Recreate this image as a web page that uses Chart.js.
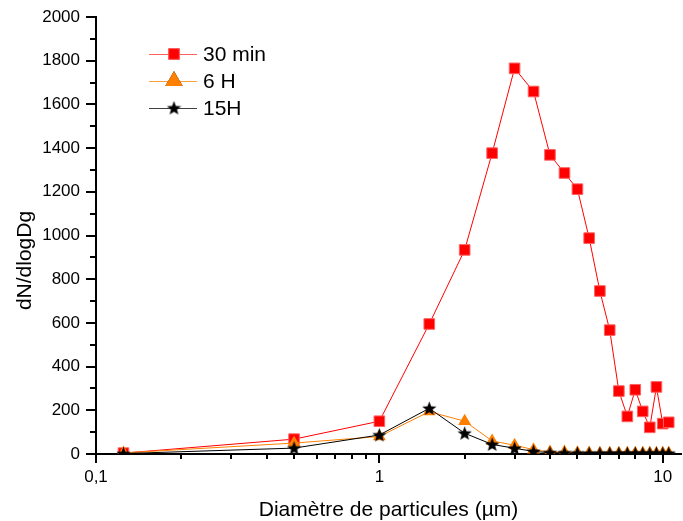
<!DOCTYPE html>
<html>
<head>
<meta charset="utf-8">
<script src="https://cdn.jsdelivr.net/npm/chart.js@4/dist/chart.umd.min.js"></script>
<style>
  html, body { margin: 0; padding: 0; background: #fff; }
  #wrap { width: 683px; height: 521px; }
</style>
</head>
<body>
<div id="wrap"><canvas id="psd" width="683" height="521"></canvas></div>
<script>
// particle diameters (µm)
const diam = [0.125, 0.5, 1, 1.5, 2, 2.5, 3, 3.5, 4, 4.5, 5, 5.5, 6, 6.5, 7, 7.5, 8, 8.5, 9, 9.5, 10, 10.5];
const min30 = [4, 68, 150, 595, 934, 1377, 1765, 1659, 1369, 1286, 1212, 988, 746, 567, 288, 172, 294, 195, 122, 307, 139, 145];
const h6 = [5, 50, 80, 194, 150, 60, 40, 20, 9, 9, 6, 5, 4, 4, 4, 4, 4, 4, 4, 4, 4, 4];
const h15 = [2, 27, 87, 209, 95, 44, 26, 12, 6, 5, 4, 3, 3, 3, 3, 3, 3, 3, 3, 3, 3, 3];
const seriesNames = ["30 min", "6 H", "15H"];
const xMajor = [0.1, 1, 10];
const xMinor = [0.2,0.3,0.4,0.5,0.6,0.7,0.8,0.9,2,3,4,5,6,7,8,9];

const fontFam = "'Liberation Sans', Arial, sans-serif";

// filled five point star for the 15H markers
function makeStar(size, color) {
    const c = document.createElement("canvas");
    c.width = size; c.height = size;
    const g = c.getContext("2d");
    const cx = size / 2, cy = size / 2 + 0.5, ro = size / 2, ri = ro * 0.42;
    g.beginPath();
    for (let i = 0; i < 10; i++) {
        const r = i % 2 ? ri : ro;
        const a = -Math.PI / 2 + i * Math.PI / 5;
        g.lineTo(cx + r * Math.cos(a), cy + r * Math.sin(a));
    }
    g.closePath();
    g.fillStyle = color;
    g.fill();
    return c;
}
const star = makeStar(15, "#000");

const toXY = arr => arr.map((v, i) => ({ x: diam[i], y: v }));

// axis ticks (major + minor), drawn from the scales, plus the y title
const tickPlugin = {
    id: "ticks",
    afterDraw(chart) {
        const ctx = chart.ctx, xs = chart.scales.x, ys = chart.scales.y;
        const a = chart.chartArea;
        ctx.save();
        ctx.strokeStyle = "#000";
        ctx.lineWidth = 2;
        ctx.beginPath();
        xMajor.forEach(v => { const p = Math.round(xs.getPixelForValue(v)); ctx.moveTo(p, a.bottom); ctx.lineTo(p, a.bottom + 9); });
        xMinor.forEach(v => { const p = Math.round(xs.getPixelForValue(v)); ctx.moveTo(p, a.bottom); ctx.lineTo(p, a.bottom + 5); });
        for (let v = 0; v <= 2000; v += 100) {
            const p = Math.round(ys.getPixelForValue(v));
            ctx.moveTo(a.left, p); ctx.lineTo(a.left - (v % 200 === 0 ? 10 : 6), p);
        }
        ctx.stroke();

        // y axis title, centred on the page height like the original
        ctx.translate(25, chart.height / 2);
        ctx.rotate(-Math.PI / 2);
        ctx.fillStyle = "#000";
        ctx.font = "21px " + fontFam;
        ctx.textAlign = "center";
        ctx.textBaseline = "middle";
        ctx.fillText("dN/dlogDg", 0, 0);
        ctx.restore();
    }
};

// legend: line - marker - line, then text
const legendPlugin = {
    id: "legendBox",
    afterDraw(chart) {
        const ctx = chart.ctx;
        ctx.save();
        chart.data.datasets.forEach((ds, i) => {
            const y = 54 + i * 27;
            ctx.strokeStyle = ds.legendLine;
            ctx.lineWidth = 1;
            ctx.beginPath();
            ctx.moveTo(149, y + 0.5); ctx.lineTo(197, y + 0.5);
            ctx.stroke();
            Chart.helpers.drawPoint(ctx, {
                pointStyle: ds.pointStyle, radius: ds.legendRadius, rotation: 0,
                borderWidth: ds.pointBorderWidth || 0
            }, 174, y);
            ctx.fillStyle = ds.pointBackgroundColor;
            ctx.strokeStyle = ds.pointBorderColor;
            ctx.fill();
            if (ds.pointBorderWidth) ctx.stroke();
            ctx.fillStyle = "#000";
            ctx.font = "21px " + fontFam;
            ctx.textBaseline = "middle";
            ctx.fillText(seriesNames[i], 203, y + 1);
        });
        ctx.restore();
    }
};

new Chart(document.getElementById("psd"), {
    type: "line",
    data: {
        datasets: [{
            label: seriesNames[0],
            data: toXY(min30),
            borderColor: "#ff0000",
            legendLine: "#ff6060",
            borderWidth: 1,
            pointStyle: "rect",
            pointRadius: 7.5,
            legendRadius: 7.5,
            pointBackgroundColor: "#ff0000",
            pointBorderColor: "#ff6060",
            pointBorderWidth: 1,
            order: 3
        }, {
            label: seriesNames[1],
            data: toXY(h6),
            borderColor: "#ff8000",
            legendLine: "#ffa040",
            borderWidth: 1,
            pointStyle: "triangle",
            pointRadius: 7.5,
            legendRadius: 10,
            pointBackgroundColor: "#ff8000",
            pointBorderColor: "#ff8000",
            pointBorderWidth: 0,
            order: 2
        }, {
            label: seriesNames[2],
            data: toXY(h15),
            borderColor: "#000000",
            legendLine: "#404040",
            borderWidth: 1,
            pointStyle: star,
            pointRadius: 7.5,
            legendRadius: 7.5,
            pointBackgroundColor: "#000",
            pointBorderColor: "#000",
            pointBorderWidth: 0,
            order: 1
        }]
    },
    options: {
        responsive: false,
        animation: false,
        events: [],
        layout: { autoPadding: false, padding: { top: 17, right: 2, left: 0, bottom: 0 } },
        plugins: { legend: { display: false }, tooltip: { enabled: false } },
        elements: { line: { tension: 0 } },
        scales: {
            x: {
                type: "logarithmic",
                min: 0.1,
                max: 11.6,
                afterFit: s => { s.height = 67; s.paddingLeft = 0; s.paddingRight = 0; },
                afterBuildTicks: s => { s.ticks = xMajor.map(v => ({ value: v })); },
                grid: { display: false, drawTicks: false },
                border: { display: true, color: "#000", width: 2 },
                ticks: {
                    color: "#000",
                    padding: 13,
                    autoSkip: false,
                    maxRotation: 0,
                    font: { family: fontFam, size: 17 },
                    callback: v => String(v).replace(".", ",")
                },
                title: {
                    display: true,
                    text: "Diamètre de particules (µm)",
                    color: "#000",
                    padding: { top: 0, bottom: 0 },
                    font: { family: fontFam, size: 21, lineHeight: 1 }
                }
            },
            y: {
                min: 0,
                max: 2000,
                afterFit: s => { s.width = 96; s.paddingTop = 0; s.paddingBottom = 0; },
                grid: { display: false, drawTicks: false },
                border: { display: true, color: "#000", width: 2 },
                ticks: {
                    stepSize: 200,
                    color: "#000",
                    padding: 16,
                    font: { family: fontFam, size: 17 },
                    callback: v => String(v)
                },
                title: { display: false }
            }
        }
    },
    plugins: [tickPlugin, legendPlugin]
});
</script>
</body>
</html>
